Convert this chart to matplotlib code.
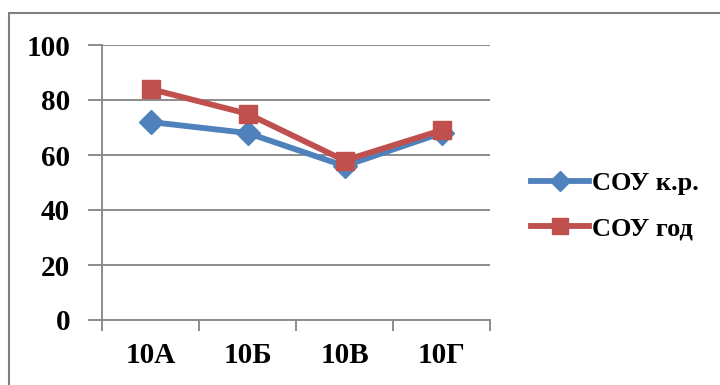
import numpy as np
import matplotlib.pyplot as plt
from matplotlib.patches import Rectangle
from matplotlib.ticker import FixedLocator

# data
classes = ["10А", "10Б", "10В", "10Г"]
sou_kr = [72, 68, 56, 68]
sou_god = [84, 75, 58, 69]
series_names = ["СОУ к.р.", "СОУ год"]
y_ticks = [0, 20, 40, 60, 80, 100]

plt.rcParams['font.family'] = ['Liberation Serif', 'DejaVu Serif']
plt.rcParams['font.weight'] = 'bold'

fig = plt.figure(figsize=(7.2, 3.85), dpi=100)
ax = fig.add_axes([102 / 720, 1 - 320 / 385, 388 / 720, 275 / 385])

x = np.arange(len(classes))
ax.plot(x, sou_kr, color='#4F81BD', lw=4.2, marker='D', ms=12,
        label=series_names[0], zorder=3)
ax.plot(x, sou_god, color='#C0504D', lw=4.2, marker='s', ms=13.5,
        label=series_names[1], zorder=4)

ax.set_ylim(0, 100)
ax.set_xlim(-0.5, len(classes) - 0.5)
ax.set_yticks(y_ticks)
ax.set_xticks(x)
ax.set_xticklabels(classes)
ax.xaxis.set_minor_locator(FixedLocator(np.arange(len(classes) + 1) - 0.5))

grid_col = '#8c8c8c'
ax.grid(axis='y', color=grid_col, lw=1.4)
ax.set_axisbelow(True)
for s in ['top', 'right']:
    ax.spines[s].set_visible(False)
for s in ['left', 'bottom']:
    ax.spines[s].set_color(grid_col)
    ax.spines[s].set_linewidth(1.4)

ax.tick_params(axis='y', length=10, width=1.4, color=grid_col, pad=13,
               labelsize=21)
ax.tick_params(axis='x', which='major', length=0, pad=16, labelsize=21)
ax.tick_params(axis='x', which='minor', length=8, width=1.4, color=grid_col)
for lab in ax.get_xticklabels() + ax.get_yticklabels():
    lab.set_fontweight('bold')

leg = fig.legend(loc='center left', bbox_to_anchor=(518 / 720, 1 - 206 / 385),
                 frameon=False, fontsize=19, handlelength=2.2,
                 handletextpad=0.1, labelspacing=0.85, borderpad=0,
                 markerscale=0.85)
for t in leg.get_texts():
    t.set_fontweight('bold')

# outer border (cropped at right and bottom)
fig.patches.append(Rectangle((9 / 720, -0.1), 1.0, 1 - 13 / 385 + 0.1,
                             transform=fig.transFigure, fill=False,
                             edgecolor='#808080', lw=1.5))

plt.savefig("out.png", dpi=100)
